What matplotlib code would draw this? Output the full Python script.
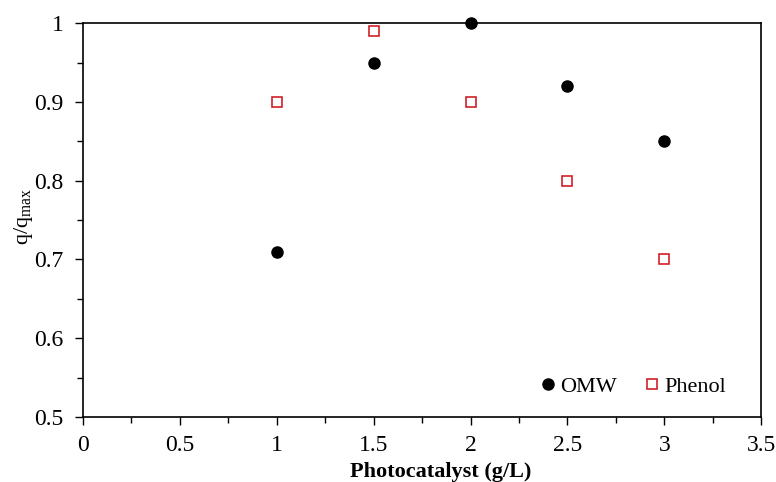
import numpy as np
import matplotlib
matplotlib.use('Agg')
import matplotlib.pyplot as plt
from matplotlib.ticker import MultipleLocator

plt.rcParams['font.family'] = 'Liberation Serif'
plt.rcParams['mathtext.fontset'] = 'custom'
plt.rcParams['mathtext.rm'] = 'Liberation Serif'

dose = [1, 1.5, 2, 2.5, 3]
omw = [0.71, 0.95, 1.0, 0.92, 0.85]
phenol = [0.90, 0.99, 0.90, 0.80, 0.70]

fig = plt.figure(figsize=(7.76, 4.82), dpi=100)
ax = fig.add_axes([0.107, 0.135, 0.874, 0.817])

ax.plot(dose, omw, 'o', color='black', ms=8, label='OMW', clip_on=False)
ax.plot(dose, phenol, 's', mfc='white', mec='#d0202a', mew=1.2, ms=7,
        label='Phenol', clip_on=False)

ax.set_xlim(0, 3.5)
ax.set_ylim(0.5, 1.0)
ax.xaxis.set_minor_locator(MultipleLocator(0.25))
ax.yaxis.set_minor_locator(MultipleLocator(0.05))
ax.set_xticks(np.arange(0, 3.51, 0.5))
ax.set_xticklabels(['0', '0.5', '1', '1.5', '2', '2.5', '3', '3.5'])
ax.set_yticks(np.arange(0.5, 1.01, 0.1))
ax.set_yticklabels(['0.5', '0.6', '0.7', '0.8', '0.9', '1'])
ax.tick_params(which='major', direction='out', length=6, labelsize=17, width=1)
ax.tick_params(axis='x', which='major', pad=7)
ax.tick_params(axis='y', which='major', pad=8)
ax.tick_params(which='minor', direction='out', length=4, width=1)
for s in ax.spines.values():
    s.set_linewidth(1.2)

ax.set_xlabel('Photocatalyst (g/L)', fontsize=16, fontweight='bold')
ax.xaxis.set_label_coords(0.527, -0.115)
ax.set_ylabel(r'q/q$_{\mathrm{max}}$', fontsize=16)
ax.yaxis.set_label_coords(-0.071, 0.51)

ax.legend(loc='lower right', ncol=2, frameon=False, fontsize=16,
          handlelength=0.8, handletextpad=0.15, columnspacing=1.2,
          borderaxespad=0.5, bbox_to_anchor=(0.978, 0.0))

fig.savefig('out.png', dpi=100)
